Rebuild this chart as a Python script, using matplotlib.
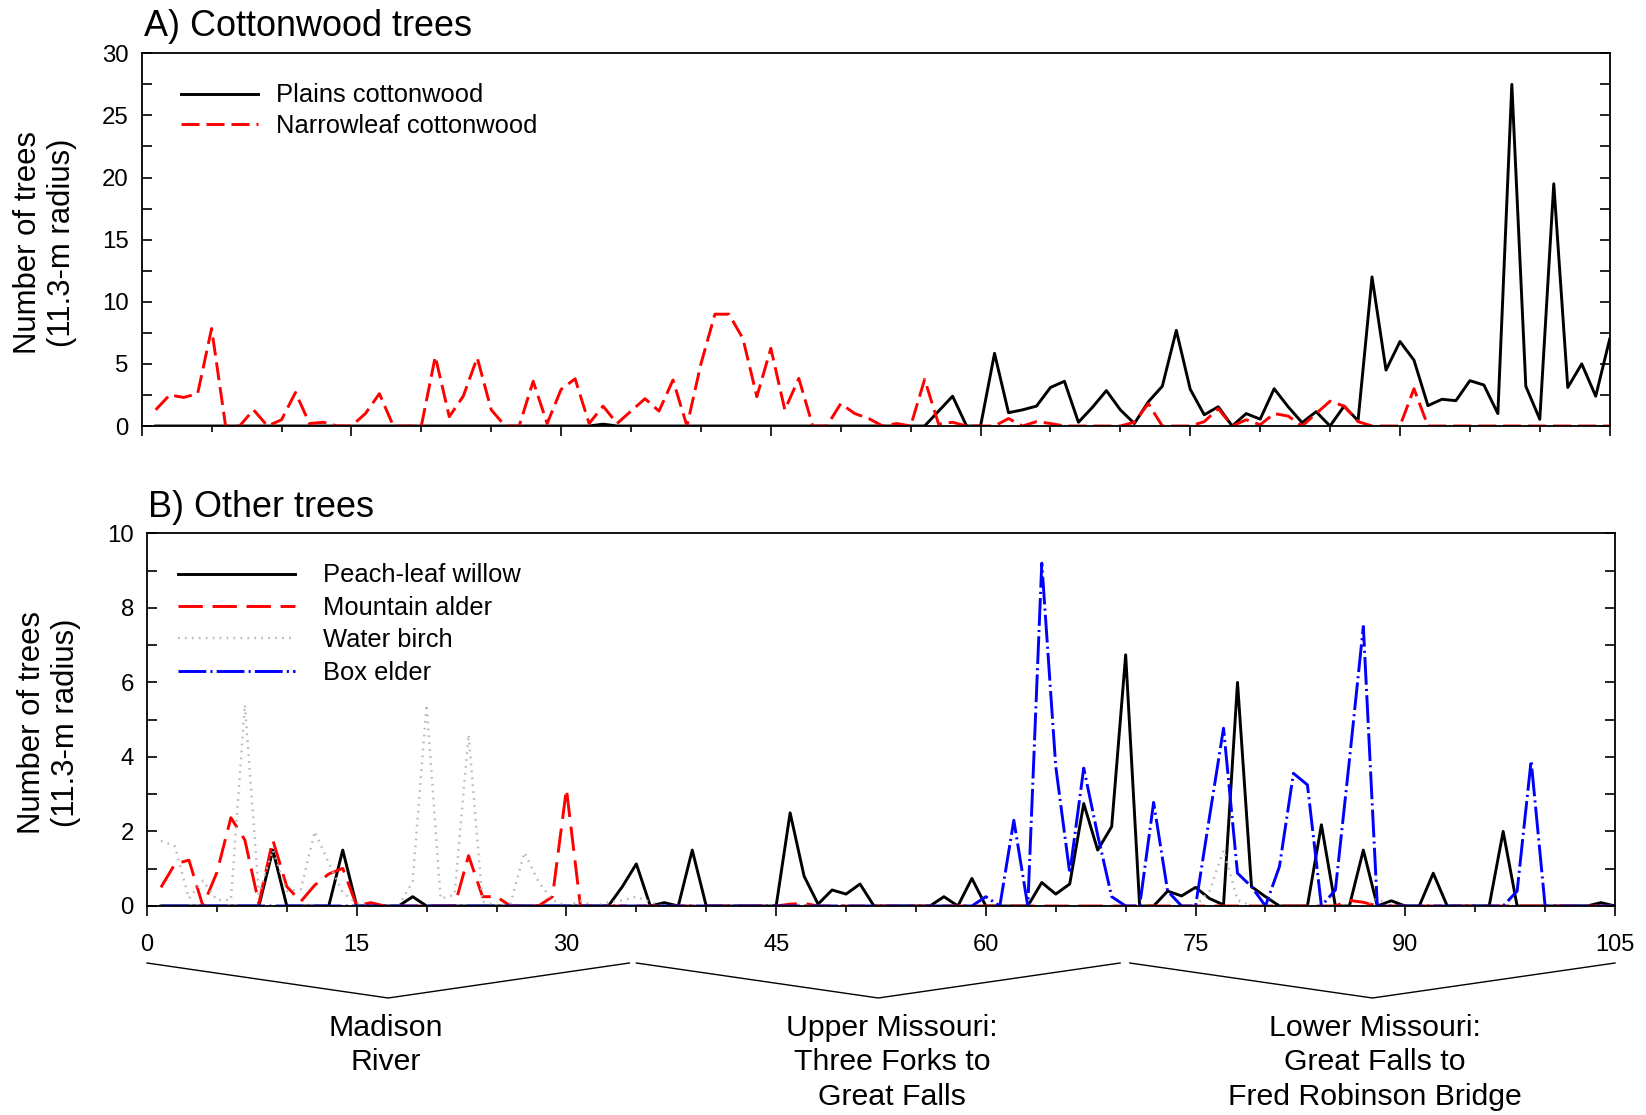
import numpy as np
import matplotlib
matplotlib.use("Agg")
import matplotlib.pyplot as plt
from matplotlib.transforms import blended_transform_factory

plt.rcParams['font.family'] = ['Liberation Sans', 'DejaVu Sans']
plt.rcParams['lines.scale_dashes'] = False

# site number along the river (1..105)
sites = np.arange(1, 106)

# A) cottonwood counts per site
plains_cottonwood = [
    0, 0, 0, 0, 0, 0, 0, 0, 0, 0, 0, 0, 0, 0, 0, 0, 0, 0, 0, 0,
    0, 0, 0, 0, 0, 0, 0, 0, 0, 0, 0, 0, 0.15, 0, 0, 0, 0, 0, 0, 0,
    0, 0, 0, 0, 0, 0, 0, 0, 0, 0, 0, 0, 0, 0, 0, 0, 1.2, 2.4, 0, 0,
    5.85, 1.07, 1.3, 1.6, 3.1, 3.6, 0.3, 1.5, 2.85, 1.3, 0.2, 1.95, 3.2, 7.7, 2.95, 0.9, 1.55, 0, 1.0, 0.55,
    3.0, 1.55, 0.27, 1.15, 0, 1.6, 0.43, 12.0, 4.5, 6.8, 5.3, 1.64, 2.15, 2.04, 3.65, 3.3, 1.0, 27.5, 3.2, 0.54,
    19.5, 3.1, 5.0, 2.4, 7.0]
narrowleaf_cottonwood = [
    1.3, 2.5, 2.3, 2.6, 7.85, 0, 0, 1.3, 0, 0.5, 2.7, 0.2, 0.3, 0, 0, 1.0, 2.6, 0, 0, 0,
    5.6, 0.75, 2.4, 5.5, 1.3, 0, 0, 3.6, 0.2, 2.95, 3.8, 0.2, 1.6, 0.2, 1.2, 2.2, 1.2, 3.7, 0, 5.0,
    9.0, 9.0, 7.05, 2.36, 6.25, 1.3, 3.83, 0, 0, 1.8, 1.0, 0.6, 0, 0.2, 0, 3.75, 0.15, 0.3, 0, 0,
    0, 0.6, 0, 0.35, 0.2, 0, 0, 0, 0, 0, 0.3, 1.8, 0, 0, 0, 0.35, 1.4, 0, 0.5, 0.1,
    1.0, 0.8, 0, 1.0, 2.0, 1.6, 0.35, 0, 0, 0, 3.0, 0, 0, 0, 0, 0, 0, 0, 0, 0,
    0, 0, 0, 0, 0]

# B) other tree species per site
peachleaf_willow = [
    0, 0, 0, 0, 0, 0, 0, 0, 1.5, 0, 0, 0, 0, 1.5, 0, 0, 0, 0, 0.25, 0,
    0, 0, 0, 0, 0, 0, 0, 0, 0, 0, 0, 0, 0, 0.52, 1.13, 0, 0.09, 0, 1.5, 0,
    0, 0, 0, 0, 0, 2.5, 0.8, 0.05, 0.43, 0.32, 0.59, 0, 0, 0, 0, 0, 0.25, 0, 0.74, 0,
    0, 0, 0, 0.63, 0.32, 0.59, 2.75, 1.5, 2.13, 6.74, 0, 0, 0.4, 0.27, 0.5, 0.2, 0.03, 6.0, 0.52, 0.25,
    0, 0, 0, 2.18, 0, 0, 1.5, 0, 0.14, 0, 0, 0.88, 0, 0, 0, 0, 2.0, 0, 0, 0,
    0, 0, 0, 0.09, 0]
mountain_alder = [
    0.5, 1.13, 1.23, 0, 0.9, 2.37, 1.77, 0.07, 1.77, 0.52, 0.12, 0.56, 0.86, 1.01, 0, 0.09, 0, 0, 0, 0,
    0, 0, 1.35, 0.25, 0.25, 0, 0, 0, 0.25, 3.14, 0, 0, 0, 0, 0, 0, 0, 0, 0, 0,
    0, 0, 0, 0, 0, 0.05, 0.07, 0, 0, 0, 0, 0, 0, 0, 0, 0, 0, 0, 0, 0,
    0, 0, 0, 0, 0, 0, 0, 0, 0, 0, 0, 0, 0, 0, 0, 0, 0, 0, 0, 0,
    0, 0, 0, 0, 0, 0.15, 0.1, 0, 0, 0, 0, 0, 0, 0, 0, 0, 0, 0, 0, 0,
    0, 0, 0, 0, 0]
water_birch = [
    1.75, 1.6, 0.2, 0.68, 0.16, 0.16, 5.4, 0.32, 1.5, 0.4, 0.45, 2.0, 1.15, 0.36, 0.07, 0, 0, 0, 0.65, 5.4,
    0.2, 0.3, 4.6, 0.12, 0, 0.07, 1.44, 0.65, 0.16, 0, 0.14, 0, 0.1, 0.15, 0.25, 0.1, 0, 0, 0, 0,
    0, 0, 0, 0, 0, 0, 0, 0, 0, 0, 0, 0, 0, 0, 0, 0, 0, 0, 0, 0,
    0, 0, 0, 0, 0, 0, 0, 0, 0, 0, 0, 0, 0, 0, 0, 0.4, 1.5, 0.16, 0, 0,
    0, 0, 0, 0, 0, 0, 0, 0.2, 0, 0, 0, 0, 0, 0, 0, 0, 0, 0, 0, 0,
    0, 0, 0, 0, 0]
box_elder = [
    0, 0, 0, 0, 0, 0, 0, 0, 0, 0, 0, 0, 0, 0, 0, 0, 0, 0, 0, 0,
    0, 0, 0, 0, 0, 0, 0, 0, 0, 0, 0, 0, 0, 0, 0, 0, 0, 0, 0, 0,
    0, 0, 0, 0, 0, 0, 0, 0, 0, 0, 0, 0, 0, 0, 0, 0, 0, 0, 0, 0.25,
    0, 2.3, 0, 9.2, 3.74, 0.88, 3.7, 1.9, 0.25, 0, 0, 2.78, 0.4, 0, 0, 2.4, 4.77, 0.88, 0.52, 0,
    1.06, 3.56, 3.25, 0, 0.43, 3.9, 7.5, 0, 0, 0, 0, 0, 0, 0, 0, 0, 0, 0.4, 3.9, 0,
    0, 0, 0, 0, 0]

# river reaches: (start, end) in site units and their labels
reach_bounds = [(0, 34.5), (35, 69.6), (70.3, 105)]
reach_labels = ["Madison\nRiver",
                "Upper Missouri:\nThree Forks to\nGreat Falls",
                "Lower Missouri:\nGreat Falls to\nFred Robinson Bridge"]
reach_label_x = [17.1, 53.3, 87.8]

W, H = 1646, 1115
fig = plt.figure(figsize=(W / 100, H / 100), dpi=100)
ax_a = fig.add_axes([141.7 / W, 1 - 426 / H, 1468 / W, 372.7 / H])
ax_b = fig.add_axes([147 / W, 1 - 906 / H, 1468 / W, 372.7 / H])

LW = 2.1
ax_a.plot(sites, plains_cottonwood, color='black', lw=LW, label='Plains cottonwood')
ax_a.plot(sites, narrowleaf_cottonwood, color='red', lw=LW, dashes=(13, 5),
          label='Narrowleaf cottonwood')

ax_b.plot(sites, peachleaf_willow, color='black', lw=LW, label='Peach-leaf willow')
ax_b.plot(sites, mountain_alder, color='red', lw=LW, dashes=(17.5, 7),
          label='Mountain alder')
ax_b.plot(sites, water_birch, color='#b8b8b8', lw=1.7, dashes=(1.2, 3.8),
          label='Water birch')
ax_b.plot(sites, box_elder, color='blue', lw=LW, dashes=(20, 3, 1.5, 3),
          label='Box elder')

for ax, top, major, minor in [(ax_a, 30, 5, 2.5), (ax_b, 10, 2, 1)]:
    ax.set_xlim(0, 105)
    ax.set_ylim(0, top)
    ax.set_xticks(np.arange(0, 106, 15))
    ax.set_xticks(np.arange(0, 106, 5), minor=True)
    ax.set_yticks(np.arange(0, top + 0.1, major))
    ax.set_yticks(np.arange(0, top + 0.1, minor), minor=True)
    ax.tick_params(axis='x', which='major', direction='out', length=7, width=1.2,
                   labelsize=17, pad=13, top=False)
    ax.tick_params(axis='x', which='minor', direction='out', length=4.5, width=1.2, top=False)
    ax.tick_params(axis='y', which='both', direction='in', length=7, width=1.2,
                   left=True, right=True, labelsize=17.3, pad=9.5)
    for sp in ax.spines.values():
        sp.set_linewidth(1.3)
    ax.set_yticklabels([f"{int(v)}" for v in ax.get_yticks()])

ax_a.tick_params(axis='x', labelbottom=False)

ax_a.legend(loc='upper left', bbox_to_anchor=(0.0268, 0.919), frameon=False,
            borderaxespad=0, borderpad=0, fontsize=18.4, handlelength=3.0,
            handletextpad=0.7, labelspacing=0.26)
ax_b.legend(loc='upper left', bbox_to_anchor=(0.0209, 0.919), frameon=False,
            borderaxespad=0, borderpad=0, fontsize=18.4, handlelength=4.6,
            handletextpad=1.1, labelspacing=0.33)

# panel titles and axis labels
fig.text(143.5 / W, 1 - 36 / H, "A) Cottonwood trees", fontsize=25.9, va='baseline')
fig.text(148 / W, 1 - 517 / H, "B) Other trees", fontsize=25.9, va='baseline')
ylab = "Number of trees\n(11.3-m radius)"
fig.text(45 / W, 1 - 243 / H, ylab, fontsize=22.4, rotation=90, ha='center',
         va='center', multialignment='center', linespacing=1.15)
fig.text(49 / W, 1 - 723 / H, ylab, fontsize=22.4, rotation=90, ha='center',
         va='center', multialignment='center', linespacing=1.15)

# reach brackets under the x axis
trans = blended_transform_factory(ax_b.transData, fig.transFigure)
y_end, y_tip = 1 - 963 / H, 1 - 998 / H
for (x0, x1), label, xt in zip(reach_bounds, reach_labels, reach_label_x):
    xm = (x0 + x1) / 2
    ax_b.plot([x0, xm, x1], [y_end, y_tip, y_end], color='black', lw=1.0,
              transform=trans, clip_on=False)
    ax_b.text(xt, 1 - 1014 / H, label, transform=trans, ha='center', va='top',
              fontsize=21.8, linespacing=1.29, multialignment='center')

fig.savefig("out.png", dpi=100)
